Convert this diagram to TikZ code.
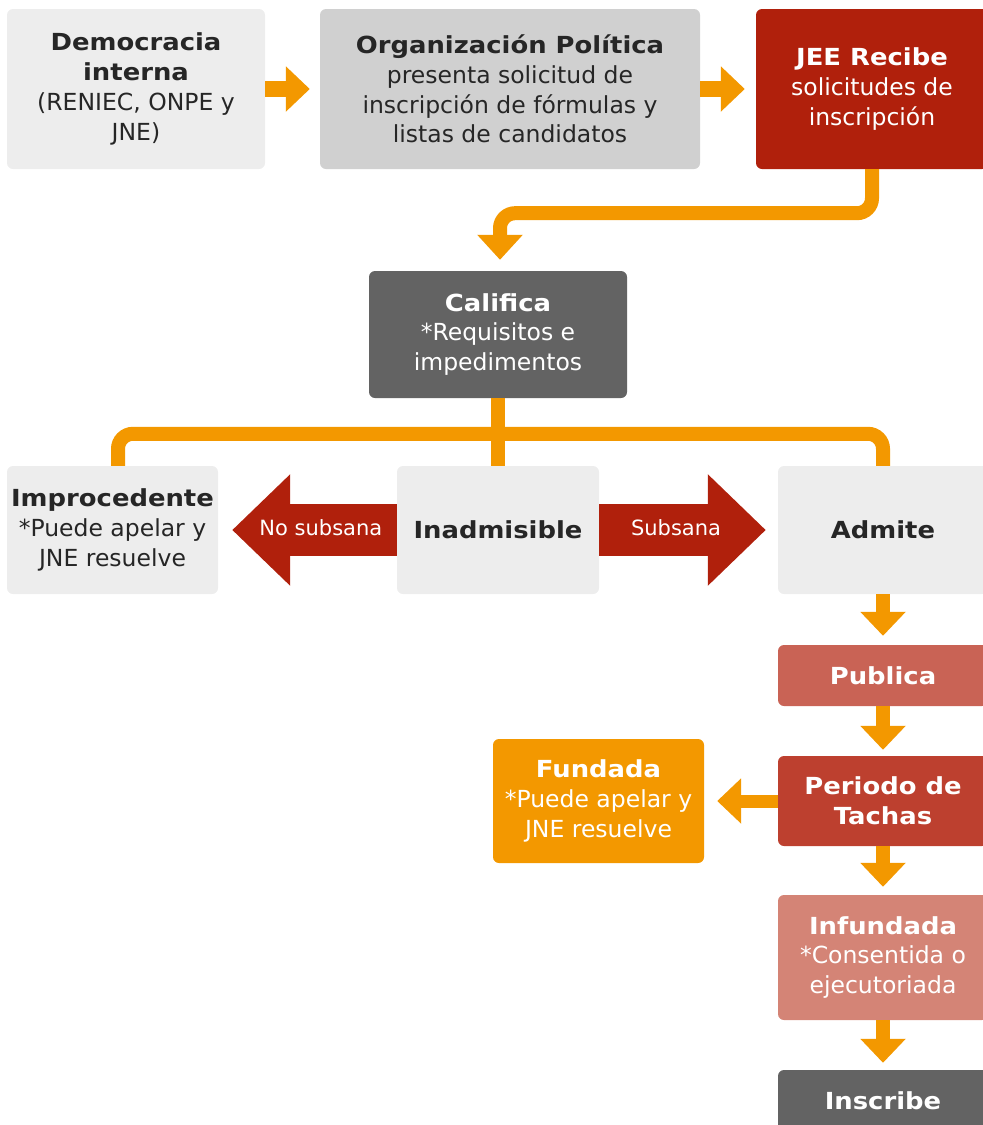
\documentclass[tikz,border=0pt]{standalone}
\usepackage{fontspec}
\setmainfont{DejaVu Sans}[BoldFeatures={FakeStretch=1.1}]
\usetikzlibrary{arrows.meta,calc}
\definecolor{lg}{HTML}{EDEDED}
\definecolor{mg}{HTML}{D0D0D0}
\definecolor{dg}{HTML}{636363}
\definecolor{dred}{HTML}{B0200C}
\definecolor{org}{HTML}{F39800}
\definecolor{pub}{HTML}{C96355}
\definecolor{per}{HTML}{BD402F}
\definecolor{inf}{HTML}{D48476}
\definecolor{txt}{HTML}{262626}
\begin{document}
\begin{tikzpicture}[x=1pt,y=-1pt,
  box/.style={rectangle, rounded corners=6pt, inner sep=0pt, align=center,
    font=\fontsize{23.5}{29.8}\selectfont, text=txt},
  wbox/.style={box, text=white},
  oarrow/.style={draw=org, line width=15pt, -{Triangle[width=44pt,length=24pt]}, shorten >=9pt},
  oline/.style={draw=org, line width=14pt, rounded corners=15pt},
  rarrow/.style={draw=dred, line width=52pt, -{Triangle[width=108pt,length=58pt]}},
  rlabel/.style={text=white, font=\fontsize{21}{24}\selectfont}
]
\useasboundingbox (0,0) rectangle (983,1125);
\clip (0,0) rectangle (983,1125);

% top row
\node[box, fill=lg, minimum width=258pt, minimum height=160pt] (dem) at (136,89)
  {\textbf{Democracia}\\\textbf{interna}\\(RENIEC, ONPE y\\JNE)};
\node[box, fill=mg, minimum width=380pt, minimum height=160pt] (orgp) at (510,89)
  {\textbf{Organización Política}\\presenta solicitud de\\inscripción de fórmulas y\\listas de candidatos};
\node[wbox, fill=dred, minimum width=232pt, minimum height=160pt] (jee) at (872,89)
  {\textbf{JEE Recibe}\\solicitudes de\\inscripción};

\draw[oarrow, line width=16pt, shorten >=10pt] (dem.east) -- (orgp.west);
\draw[oarrow, line width=16pt, shorten >=11pt] (orgp.east) -- (jee.west);

% califica
\node[wbox, fill=dg, minimum width=258pt, minimum height=127pt] (cal) at (498,334.5)
  {\textbf{Califica}\\*Requisitos e\\impedimentos};

\draw[oline] (jee.south) -- ++(0,44) -| ($(cal.north)+(2,-25)$);
\draw[draw=org, line width=14pt, -{Triangle[width=44pt,length=25pt]}, shorten >=11pt]
  ($(cal.north)+(2,-26)$) -- ($(cal.north)+(2,0)$);

% middle row
\node[box, fill=lg, minimum width=211pt, minimum height=128pt] (imp) at (112.5,530)
  {\textbf{Improcedente}\\*Puede apelar y\\JNE resuelve};
\node[box, fill=lg, minimum width=202pt, minimum height=128pt] (ina) at (498,530)
  {\textbf{Inadmisible}};
\node[box, fill=lg, minimum width=210pt, minimum height=128pt] (adm) at (883,530)
  {\textbf{Admite}};

\draw[oline] (cal.south) -- (ina.north);
\draw[oline] ($(imp.north)+(5.5,0)$) -- ++(0,-32) -| (adm.north);

\draw[rarrow, shorten >=14pt] (ina.west) -- (imp.east)
  node[rlabel, pos=0.425, yshift=2pt] (nosub) {No subsana};
\draw[rarrow, shorten >=12pt] (ina.east) -- (adm.west)
  node[rlabel, pos=0.43, yshift=2pt] (sub) {Subsana};

% right column
\node[wbox, fill=pub, minimum width=210pt, minimum height=61pt] (publ) at (883,675.5)
  {\textbf{Publica}};
\node[wbox, fill=per, minimum width=210pt, minimum height=90pt] (peri) at (883,801)
  {\textbf{Periodo de}\\\textbf{Tachas}};
\node[wbox, fill=org, minimum width=211pt, minimum height=124pt] (fund) at (598.5,801)
  {\textbf{Fundada}\\*Puede apelar y\\JNE resuelve};
\node[wbox, fill=inf, minimum width=210pt, minimum height=125pt] (infu) at (883,957.5)
  {\textbf{Infundada}\\*Consentida o\\ejecutoriada};
\node[wbox, fill=dg, minimum width=210pt, minimum height=61pt] (insc) at (883,1100.5)
  {\textbf{Inscribe}};

\draw[oarrow, line width=14pt] (adm.south) -- (publ.north);
\draw[oarrow, line width=14pt, shorten >=6pt] (publ.south) -- (peri.north);
\draw[oarrow, line width=13pt, shorten >=13pt] (peri.west) -- (fund.east);
\draw[oarrow, line width=14pt, shorten >=8pt] (peri.south) -- (infu.north);
\draw[oarrow, line width=14pt, shorten >=7pt] (infu.south) -- (insc.north);
\end{tikzpicture}
\end{document}
